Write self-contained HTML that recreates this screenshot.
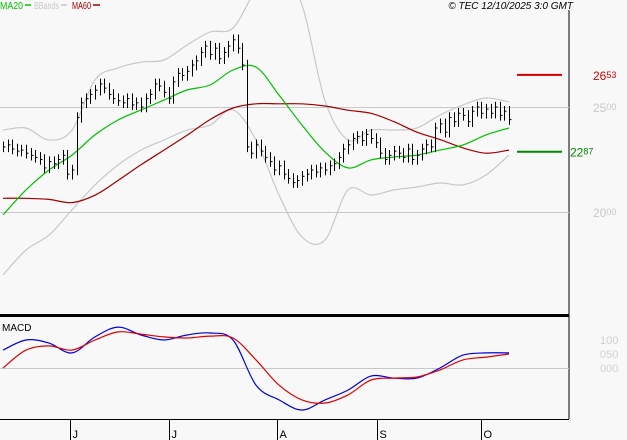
<!DOCTYPE html>
<html><head><meta charset="utf-8"><style>
html,body{margin:0;padding:0;background:#f8f8f8;}
svg{display:block;font-family:"Liberation Sans",sans-serif;}
</style></head><body>
<svg id="c" width="627" height="440" viewBox="0 0 627 440">
<rect x="0" y="0" width="627" height="440" fill="#f8f8f8"/>
<g font-size="10">
<text x="0" y="9" fill="#00c000" textLength="23" lengthAdjust="spacingAndGlyphs">MA20</text>
<line x1="25" y1="5" x2="31" y2="5" stroke="#00c000" stroke-width="1.5"/>
<text x="34" y="9" fill="#c8c8c8" textLength="25" lengthAdjust="spacingAndGlyphs">BBands</text>
<line x1="61" y1="5" x2="67" y2="5" stroke="#c8c8c8" stroke-width="1.5"/>
<text x="72" y="9" fill="#a00000" textLength="19" lengthAdjust="spacingAndGlyphs">MA60</text>
<line x1="93" y1="5" x2="100" y2="5" stroke="#a00000" stroke-width="1.5"/>
</g>
<text x="573" y="9" font-size="10" font-style="italic" text-anchor="end" fill="#000">© TEC 12/10/2025 3:0 GMT</text>
<line x1="569" y1="10" x2="569" y2="419" stroke="#000"/>
<line x1="0" y1="315.5" x2="569" y2="315.5" stroke="#000" stroke-width="3"/>
<line x1="0" y1="419.5" x2="569" y2="419.5" stroke="#000"/>
<text x="2" y="331" font-size="10" fill="#000">MACD</text>
<g id="grid"></g><g id="lines"></g><g id="bars"></g><g id="macd"></g><g id="axes"></g>
</svg>
<script>
const closes=[2310,2320,2300,2290,2295,2280,2270,2260,2250,2210,2240,2230,2250,2270,2180,
2200,2450,2520,2540,2560,2580,2610,2590,2560,2540,2530,2520,2540,2510,2520,
2500,2540,2560,2610,2600,2570,2540,2620,2660,2650,2670,2700,2720,2760,2790,
2750,2780,2730,2760,2790,2820,2780,2700,2310,2280,2320,2290,2260,2240,2200,
2220,2180,2160,2140,2150,2170,2180,2200,2190,2210,2200,2220,2230,2260,2300,
2320,2350,2360,2340,2370,2350,2330,2280,2250,2270,2290,2280,2260,2300,2250,
2270,2300,2320,2310,2400,2420,2380,2450,2430,2470,2460,2430,2480,2500,2470,
2490,2470,2500,2460,2480,2440];
const ma20=[1986,2105,2200,2271,2367,2438,2486,2533,2581,2605,2676,2690,2557,2414,2286,2210,2248,2262,2271,2295,2319,2367,2400];
const ma60=[2065,2065,2060,2045,2080,2150,2225,2295,2365,2440,2495,2515,2515,2515,2505,2485,2470,2430,2380,2345,2305,2280,2295];
const bbUpper=[2390,2400,2343,2390,2629,2686,2714,2724,2795,2857,2876,3057,3152,2986,2530,2343,2390,2390,2400,2462,2510,2543,2524];
const bbLower=[1700,1819,1890,2010,2129,2224,2295,2343,2390,2414,2486,2343,2081,1881,1867,2105,2081,2105,2119,2138,2129,2176,2271];
const macdLine=[64,100,89,54,111,146,118,100,118,125,100,-61,-114,-150,-114,-79,-29,-36,-36,0,46,54,54];
const signalLine=[0,64,79,64,100,129,121,111,107,114,107,29,-61,-114,-125,-96,-43,-36,-32,-7,29,39,50];
const priceTicks=[2500,2000];
const macdTicks=[100,50,0];
const months=["J","J","A","S","O"];
const monthBars=[14.6,36,59.6,81.3,104];
const lastMarks=[2653,2287];
const NS="http://www.w3.org/2000/svg";
const xB=i=>3+i*4.6;
const yP=v=>107+(2500-v)*0.21;
const yM=v=>368-v*0.28;
function mk(t,a,p){const e=document.createElementNS(NS,t);for(const k in a)e.setAttribute(k,a[k]);document.getElementById(p).appendChild(e);return e;}
priceTicks.forEach(v=>{
 const l=mk('line',{x1:0,x2:569,y1:yP(v)+.5,y2:yP(v)+.5,stroke:'#c8c8c8'},'grid');
 
 
 const t=mk('text',{x:593,y:yP(v)+5,'font-size':12,fill:'#c8c8c8'},'axes');
 t.textContent=String(v).slice(0,2);
 const s=document.createElementNS(NS,'tspan');s.setAttribute('font-size','9');s.setAttribute('dy','-2');s.textContent=String(v).slice(2);t.appendChild(s);
 
 
});
const z=mk('line',{x1:0,x2:569,y1:yM(0)+.5,y2:yM(0)+.5,stroke:'#c8c8c8'},'grid');


macdTicks.forEach(v=>{
 const t=mk('text',{x:600,y:yM(v)+4,'font-size':11,fill:'#d0d0d0'},'axes');
 t.textContent=(v===0?'000':(v<100?'050':'100'));
 
 
});
monthBars.forEach((b,i)=>{
 const x=Math.round(xB(b))+.5;
 const l=mk('line',{x1:x,x2:x,y1:420,y2:440,stroke:'#000'},'axes');
 
 
 const t=mk('text',{x:x+2,y:438,'font-size':11,fill:'#000'},'axes');
 t.textContent=months[i];
 
 
});
function poly(arr,yf,col,name,g){
 const P=arr.map((v,i)=>[xB(i*5),Math.max(-30,yf(v))]);
 let d='M'+P[0][0].toFixed(1)+','+P[0][1].toFixed(1);
 for(let i=0;i<P.length-1;i++){
  const p0=P[Math.max(0,i-1)],p1=P[i],p2=P[i+1],p3=P[Math.min(P.length-1,i+2)];
  const c1=[p1[0]+(p2[0]-p0[0])/6,p1[1]+(p2[1]-p0[1])/6];
  const c2=[p2[0]-(p3[0]-p1[0])/6,p2[1]-(p3[1]-p1[1])/6];
  d+=' C'+c1.map(n=>n.toFixed(1)).join(',')+' '+c2.map(n=>n.toFixed(1)).join(',')+' '+p2[0].toFixed(1)+','+p2[1].toFixed(1);
 }
 const p=mk('path',{d:d,fill:'none',stroke:col,'stroke-width':1.2},g);
 
 
}
poly(bbUpper,yP,'#c8c8c8','bband-upper','lines');
poly(bbLower,yP,'#c8c8c8','bband-lower','lines');
poly(ma60,yP,'#a00000','ma60-line','lines');
poly(ma20,yP,'#00c000','ma20-line','lines');
poly(macdLine,yM,'#0000e0','macd-line','macd');
poly(signalLine,yM,'#e00000','signal-line','macd');
closes.forEach((c,i)=>{
 const x=Math.round(xB(i))+.5;
 const prev=i?closes[i-1]:c;
 const hi=Math.max(c,prev)+25,lo=Math.min(c,prev)-25;
 const b=mk('line',{x1:x,x2:x,y1:yP(hi),y2:yP(lo),stroke:'#000'},'bars');
 
 
 mk('line',{x1:x,x2:x+2,y1:yP(c),y2:yP(c),stroke:'#000'},'bars');
});
const cols=['#d00000','#008800'];
lastMarks.forEach((v,i)=>{
 const l=mk('line',{x1:517,x2:562,y1:yP(v),y2:yP(v),stroke:cols[i],'stroke-width':2},'axes');
 
 
 const t=mk('text',{x:i?570:593,y:yP(v)+5,'font-size':12,fill:cols[i]},'axes');
 t.textContent=String(v).slice(0,2);
 const s=document.createElementNS(NS,'tspan');s.setAttribute('font-size','9');s.setAttribute('dy','-2');s.textContent=String(v).slice(2);t.appendChild(s);
 
 
});
</script>
</body></html>
